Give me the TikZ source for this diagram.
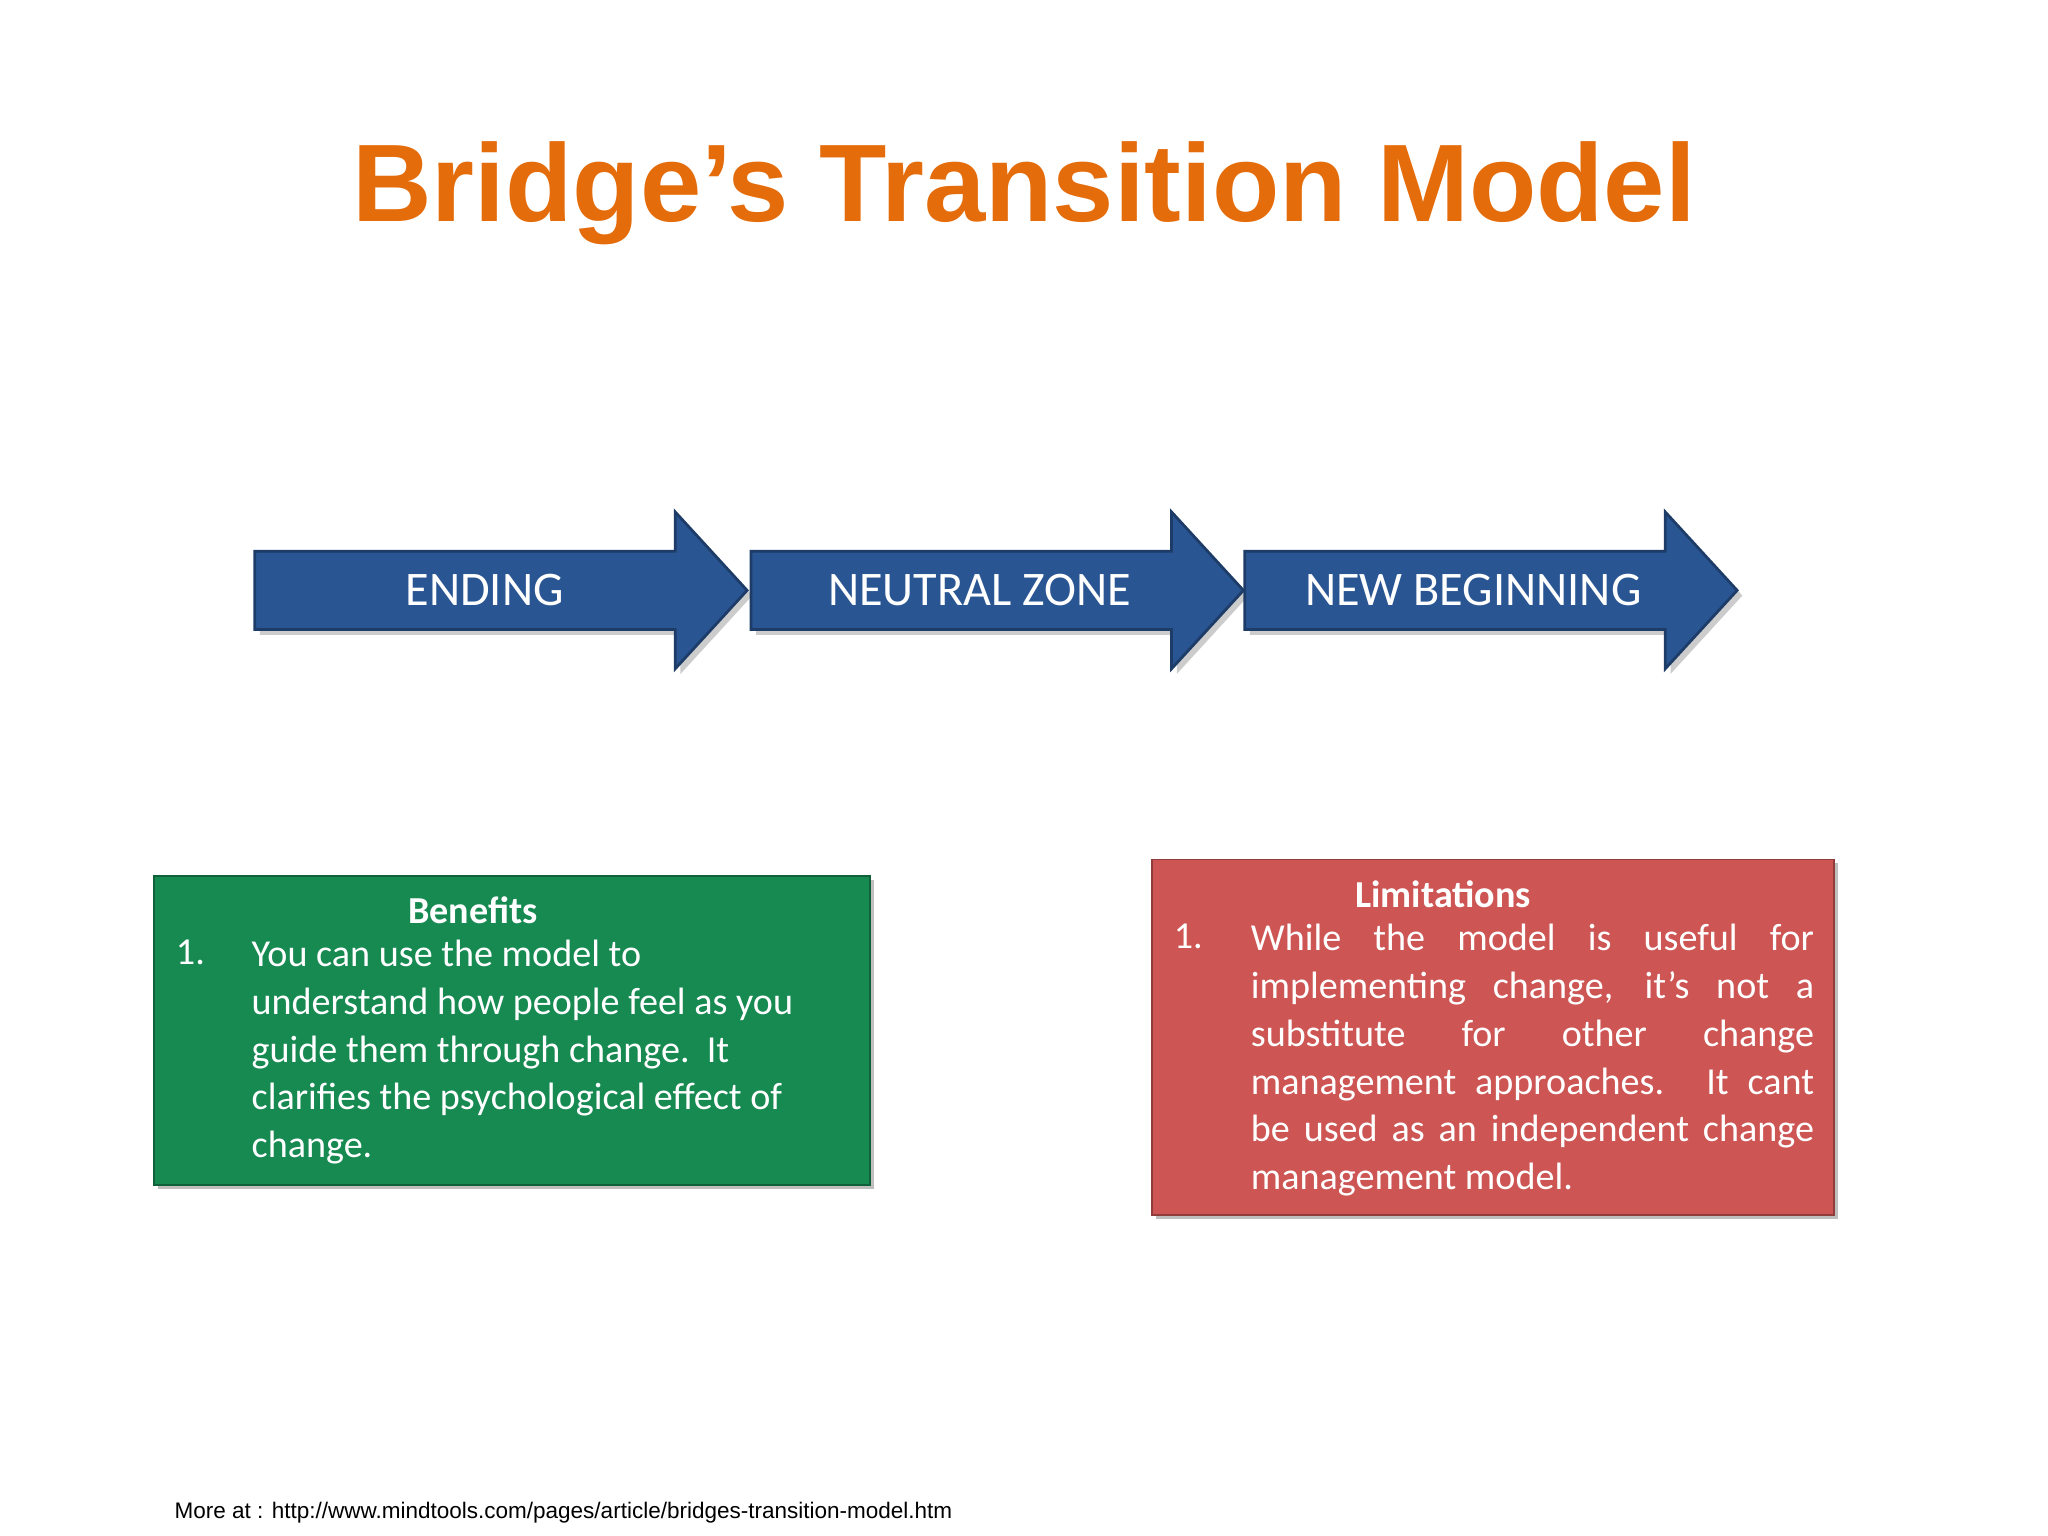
\documentclass[tikz,border=0pt]{standalone}
\usepackage{fontspec}
\setmainfont{Carlito}
\newfontfamily\arialf{Liberation Sans}
\begin{document}
\begin{tikzpicture}[x=0.01cm,y=-0.01cm,
  arr/.style={fill=arrblue,draw=arrblue!70!black,line width=0.6pt},
  arrtext/.style={text=white,font=\fontsize{10.5}{12}\selectfont},
  body/.style={text=white,font=\fontsize{8.3}{10.4}\selectfont,align=left,anchor=north west,inner sep=0pt}]
\definecolor{arrblue}{HTML}{2A5593}
\definecolor{title}{HTML}{E46C0A}
\definecolor{gbox}{HTML}{178A52}
\definecolor{rbox}{HTML}{CD5553}
\fill[white] (0,0) rectangle (1568,1176);
\useasboundingbox (0,0) rectangle (1568,1176);
\node[text=title,font=\arialf\bfseries\fontsize{24}{28}\selectfont] (t) at (784,148) {Bridge’s Transition Model};
% arrows
\foreach \x/\n in {195/a1,575/a2,953/a3}{
  \fill[gray!40] (\x+4,426) -- (\x+326,426) -- (\x+326,396) -- (\x+381,456) -- (\x+326,516) -- (\x+326,486) -- (\x+4,486) -- cycle;
  \draw[arr] (\x,422) -- (\x+322,422) -- (\x+322,392) -- (\x+377,452) -- (\x+322,512) -- (\x+322,482) -- (\x,482) -- cycle;
}
\node[arrtext] (e) at (371,452) {ENDING};
\node[arrtext] (n) at (750,452) {NEUTRAL ZONE};
\node[arrtext] (b) at (1128,452) {NEW BEGINNING};
% benefits box
\fill[gray!50] (121,674) rectangle (669,910);
\draw[fill=gbox,draw=gbox!70!black] (118,671) rectangle (666,907);
\node[text=white,font=\bfseries\fontsize{8.3}{10.4}\selectfont] (bh) at (362,697) {Benefits};
\node[body] (bn) at (134,719) {1.};
\node[body] (bt) at (192,719) {You can use the model to\\understand how people feel as you\\guide them through change.\ \ It\\clarifies the psychological effect of\\change.};
% limitations box
\fill[gray!50] (885,661) rectangle (1407,933);
\draw[fill=rbox,draw=rbox!70!black] (882,658) rectangle (1404,930);
\node[text=white,font=\bfseries\fontsize{8.3}{10.4}\selectfont] (lh) at (1105,685) {Limitations};
\node[body] (ln) at (898,707) {1.};
\node[body,text width=4.31cm,align=justify] (lt) at (957,707) {While the model is useful for\linebreak implementing change, it's not a\linebreak substitute for other change\linebreak management approaches. It cant\linebreak be used as an independent change\linebreak management model.};
\node[anchor=west,font=\arialf\fontsize{4.9}{6}\selectfont,inner sep=0pt] (f) at (133,1158) {More at : http://www.mindtools.com/pages/article/bridges-transition-model.htm};
\end{tikzpicture}
\end{document}
